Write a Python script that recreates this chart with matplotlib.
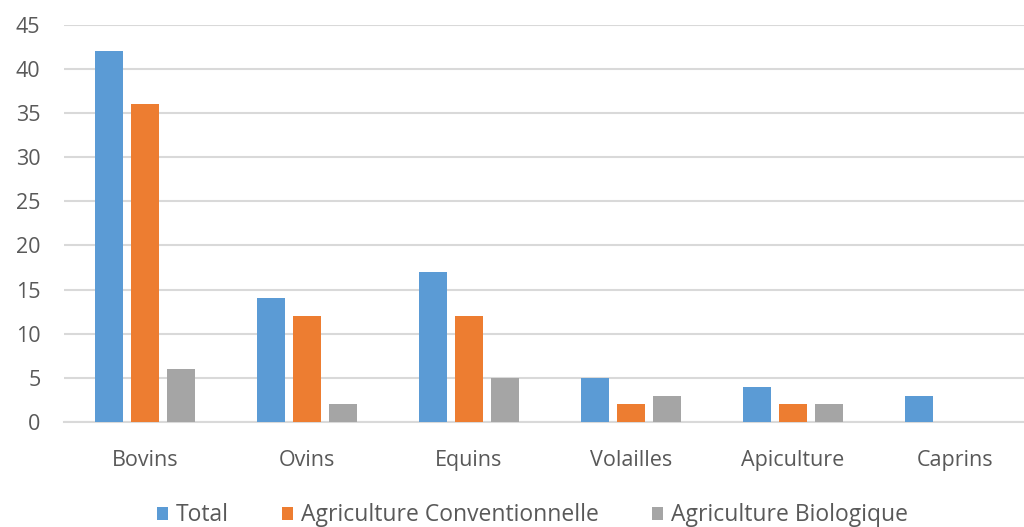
import matplotlib.pyplot as plt
import numpy as np

# données
categories = ['Bovins', 'Ovins', 'Equins', 'Volailles', 'Apiculture', 'Caprins']
total = [42, 14, 17, 5, 4, 3]
conventionnelle = [36, 12, 12, 2, 2, 0]
biologique = [6, 2, 5, 3, 2, 0]

plt.rcParams['font.family'] = ['Open Sans', 'DejaVu Sans']

fig = plt.figure(figsize=(10.24, 5.27), dpi=100)
ax = fig.add_axes([64 / 1024, 105 / 527, 972 / 1024, 397.3 / 527])

x = np.arange(len(categories))
w = 0.173
off = 0.222
ax.bar(x - off, total, w, color='#5B9BD5', label='Total', zorder=3)
ax.bar(x, conventionnelle, w, color='#ED7D31', label='Agriculture Conventionnelle', zorder=3)
ax.bar(x + off, biologique, w, color='#A5A5A5', label='Agriculture Biologique', zorder=3)

ax.set_xlim(-0.5, len(categories) - 0.5)
ax.set_ylim(0, 45)
ax.set_yticks(range(0, 50, 5))
ax.set_xticks(x)
ax.set_xticklabels(categories)

ax.grid(axis='y', color='#D9D9D9', linewidth=1.5, zorder=0)
for s in ['top', 'right', 'left']:
    ax.spines[s].set_visible(False)
ax.spines['bottom'].set_color('#D9D9D9')
ax.spines['bottom'].set_linewidth(1.5)
ax.tick_params(axis='both', length=0, labelsize=15.5, labelcolor='#595959')
ax.tick_params(axis='x', pad=20)
ax.tick_params(axis='y', pad=17)

fig.legend(loc='center', bbox_to_anchor=(0.52, 0.022), ncol=3, frameon=False,
           fontsize=16.5, labelcolor='#595959', handlelength=0.5, handleheight=0.5,
           handletextpad=0.35, columnspacing=2.3)

fig.savefig('out.png', dpi=100)
